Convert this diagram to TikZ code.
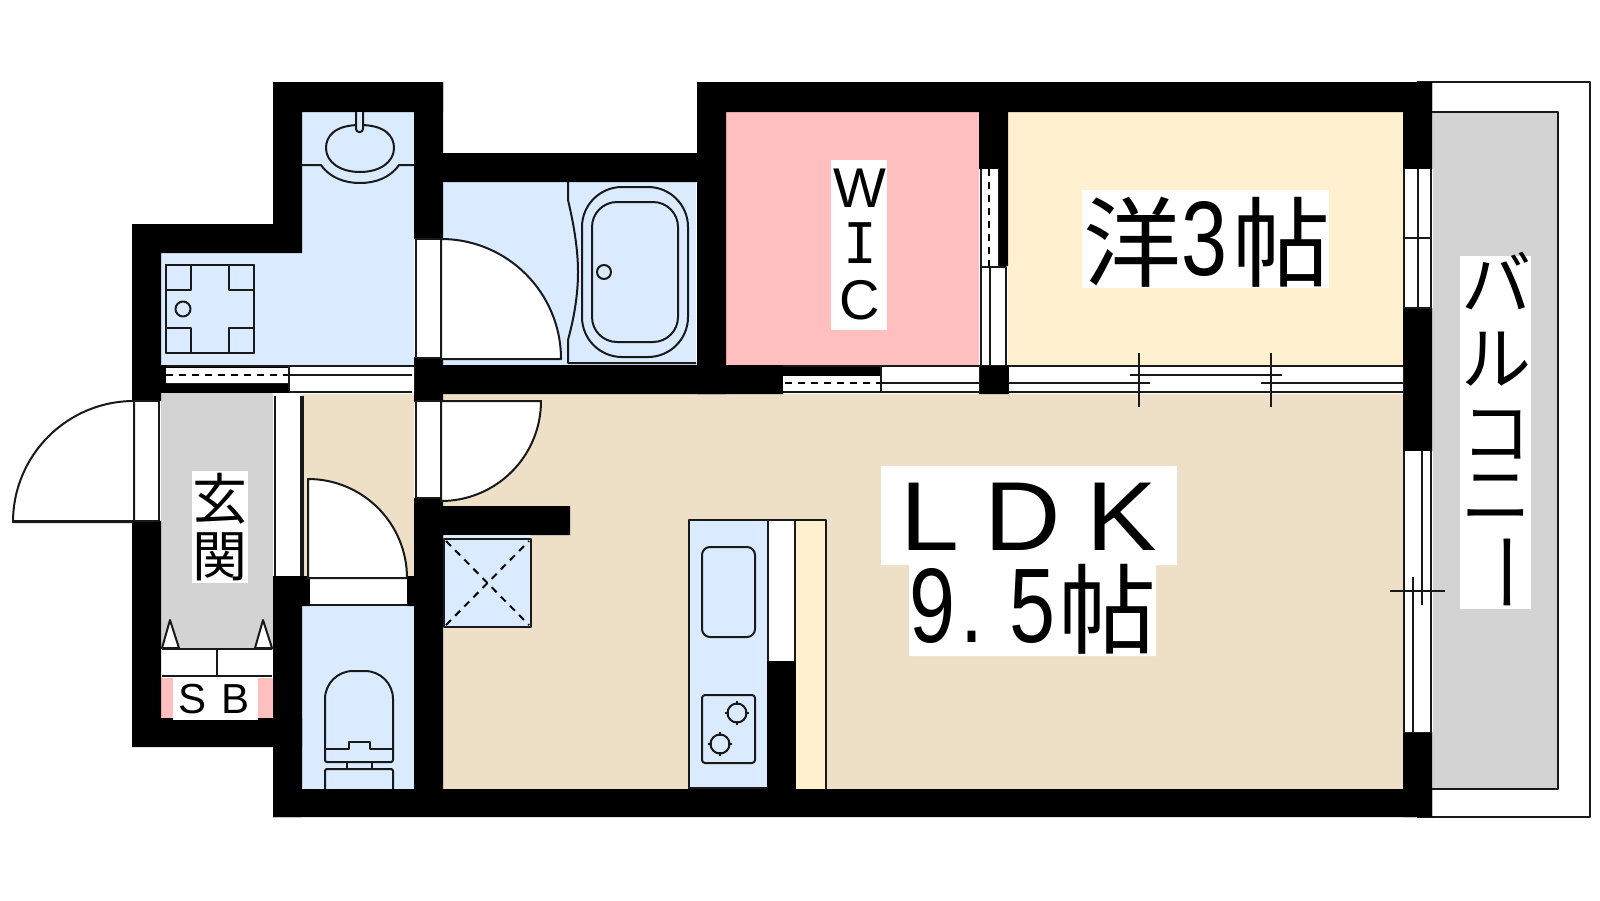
\documentclass[tikz,border=0pt]{standalone}
\usepackage{fontspec}
\usepackage{graphicx}
\setmainfont{Liberation Sans}
\newfontfamily\cjk{Noto Sans CJK JP}
\newfontfamily\monoi{DejaVu Sans Mono}
\newcommand{\tallnum}[1]{\scalebox{0.78}[1]{\fontsize{106}{106}\selectfont #1}}
\definecolor{bluefl}{HTML}{DAEBFF}
\definecolor{pinkfl}{HTML}{FFBFBF}
\definecolor{creamfl}{HTML}{FFF1CF}
\definecolor{beigefl}{HTML}{EEDFC7}
\definecolor{grayfl}{HTML}{D3D3D3}
\tikzset{
	thin line/.style={line width=2pt,draw=black!90},
	dash line/.style={line width=2pt,draw=black,dash pattern=on 7pt off 6pt},
	room label/.style={inner sep=0pt,anchor=base west},
	stack label/.style={inner sep=0pt,anchor=north,align=center}
}
\begin{document}
\begin{tikzpicture}[line join = round, line cap = butt, x=1pt, y=-1pt]
	\useasboundingbox (0,0) rectangle (1600,900);
	% rooms
	\fill[bluefl] (302,112) -- (414,112) -- (414,365) -- (161,365) -- (161,253) -- (302,253) -- cycle;
	\fill[bluefl] (443,182) rectangle (696,365);
	\fill[bluefl] (302,606) rectangle (414,789);
	\fill[pinkfl] (726,112) rectangle (979,365);
	\fill[creamfl] (1008,112) rectangle (1403,365);
	\fill[beigefl] (443,394) rectangle (1403,789);
	\fill[beigefl] (302,394) rectangle (414,576);
	\fill[grayfl] (161,393) rectangle (273,650);
	\fill[pinkfl] (161,678) rectangle (273,718);
	% balcony
	\fill[grayfl] (1432,112) rectangle (1558,789);
	\draw[thin line] (1432,112) -- (1558,112) -- (1558,789) -- (1432,789);
	\draw[thin line] (1417,82) -- (1590,82) -- (1590,817) -- (1417,817);
	% walls
	\fill[black] (273,82) rectangle (443,112) (273,82) rectangle (302,253) (132,224) rectangle (302,253);
	\fill[black] (132,224) rectangle (161,401) (132,521) rectangle (161,747) (132,718) rectangle (302,747);
	\fill[black] (273,576) rectangle (310,606) (407,576) rectangle (414,606) (273,606) rectangle (302,817);
	\fill[black] (273,789) rectangle (1432,817) (414,82) rectangle (443,239) (414,357) rectangle (443,402);
	\fill[black] (414,498) rectangle (443,789) (443,506) rectangle (570,535);
	\fill[black] (414,153) rectangle (726,182) (697,82) rectangle (1432,112) (697,82) rectangle (726,394);
	\fill[black] (979,112) rectangle (1008,169) (998,169) rectangle (1008,266) (979,365) rectangle (1009,394);
	\fill[black] (414,365) rectangle (783,394) (783,366) rectangle (880,376);
	\fill[black] (161,365) rectangle (289,393);
	\fill[black] (1403,82) rectangle (1432,169) (1403,308) rectangle (1432,451) (1403,732) rectangle (1432,817);
	% windows and sliding doors
	\fill[white] (166,368) rectangle (288,383) (289,366) rectangle (414,392);
	\draw[thin line] (166,366) -- (414,366) (289,366) -- (289,392) -- (412,392) (289,375) -- (412,375);
	\draw[dash line] (166,375) -- (288,375);
	\fill[white] (783,376) rectangle (880,392) (881,366) rectangle (979,394) (1009,366) rectangle (1403,394);
	\draw[thin line] (783,366) -- (979,366) (881,366) -- (881,392) -- (979,392) (881,383) -- (979,383);
	\draw[thin line] (783,392) -- (881,392);
	\draw[dash line] (785,383) -- (880,383);
	\draw[thin line] (1009,366) -- (1403,366) (1009,392) -- (1403,392);
	\draw[thin line] (1009,383) -- (1150,383) (1261,383) -- (1403,383) (1130,375) -- (1282,375);
	\foreach \x in {1139,1271}
	{
		\draw[thin line] (\x,353) -- (\x,407);
	}
	\fill[white] (981,169) rectangle (998,266) (981,267) rectangle (1006,365);
	\draw[dash line] (989,169) -- (989,266);
	\draw[thin line] (981,169) -- (981,365) (981,267) -- (1006,267) -- (1006,365) (990,267) -- (990,365);
	\fill[white] (1403,169) rectangle (1433,308) (1403,451) rectangle (1433,732);
	\foreach \x in {1404,1418,1431}
	{
		\draw[thin line] (\x,169) -- (\x,308);
	}
	\draw[thin line] (1404,238) -- (1431,238) (1404,308) -- (1431,308);
	\draw[thin line] (1404,451) -- (1404,732) (1431,451) -- (1431,732);
	\draw[thin line] (1422,451) -- (1422,605) (1413,577) -- (1413,732) (1390,591) -- (1445,591);
	\fill[white] (275,396) rectangle (301,576);
	\draw[thin line] (274.5,396) -- (274.5,576) (301,396) -- (301,576) (303,396) -- (303,576);
	% doors
	\fill[white] (416,239) rectangle (441,358) (416,401) rectangle (441,498) (134,401) rectangle (159,521);
	\fill[white] (310,578) rectangle (407,605);
	\draw[thin line] (416,239) rectangle (441,358) (416,401) rectangle (441,498) (134,401) -- (159,401) -- (159,521);
	\draw[thin line] (310,578) -- (407,578) (310,605) -- (407,605);
	\draw[thin line,fill=white] (441,239) arc (90:0:120pt) -- (441,359) -- cycle;
	\draw[thin line,fill=white] (441,401) -- (541,401) arc (0:-90:100pt) -- cycle;
	\draw[thin line,fill=white] (134,401) arc (90:180:121pt) -- (134,522) -- cycle;
	\draw[thin line] (13,521) -- (159,521);
	\draw[thin line,fill=white] (308,479) arc (90:0:99pt) -- (308,578) -- cycle;
	% washroom
	\draw[thin line] (360,125) .. controls (385,125) and (394,136) .. (394,148) .. controls (394,162) and (380,172) .. (360,172) .. controls (340,172) and (326,162) .. (326,148) .. controls (326,136) and (335,125) .. (360,125) -- cycle;
	\draw[thin line,fill=bluefl,rounded corners=3pt] (356,112) -- (356,132) -- (363,132) -- (363,112);
	\draw[thin line] (302,165) -- (321,165) .. controls (330,178) and (345,183) .. (360,183) .. controls (375,183) and (390,178) .. (399,165) -- (414,165);
	\draw[thin line] (166,265) rectangle (254,353);
	\foreach \x/\y in {166/265,229/265,166/328,229/328}
	{
		\draw[thin line] (\x,\y) rectangle (\x+25,\y+25);
	}
	\draw[thin line] (183,309) circle (7.5pt);
	% bath
	\draw[thin line] (568,182) -- (568,200) .. controls (574,225) and (578,250) .. (578,272) .. controls (578,295) and (574,318) .. (568,340) -- (568,363) -- (696,363);
	\draw[thin line,rounded corners=40pt] (582,187) rectangle (688,357);
	\draw[thin line,rounded corners=25pt] (592,202) rectangle (678,342);
	\draw[thin line] (604,272) circle (7pt);
	% toilet
	\draw[thin line,rounded corners=28pt] (325,749) -- (325,671) -- (393,671) -- (393,749);
	\draw[thin line,rounded corners=2pt] (325,749) -- (325,762) -- (393,762) -- (393,749);
	\draw[thin line] (325,749) -- (349,749) -- (349,742) -- (370,742) -- (370,749) -- (393,749);
	\draw[thin line] (347,762) -- (347,769) (372,762) -- (372,769);
	\draw[thin line,rounded corners=2pt] (325,789) -- (325,769) -- (393,769) -- (393,789);
	% shoe box
	\fill[white] (162,649) rectangle (272,676);
	\draw[thin line] (162,649) -- (272,649) (162,676) -- (272,676) (217,649) -- (217,676);
	\foreach \x in {162,255}
	{
		\draw[thin line,fill=white] (\x,648) -- (\x+8,620) -- (\x+17,648) -- cycle;
	}
	% closet in living room
	\fill[bluefl] (444,535) rectangle (531,539);
	\draw[thin line,fill=bluefl] (444,539) rectangle (531,627);
	\draw[dash line] (446,625) -- (529,541) (446,541) -- (529,625);
	% kitchen
	\fill[bluefl] (689,520) rectangle (767,789);
	\fill[white] (767,520) rectangle (796,661);
	\fill[creamfl] (796,520) rectangle (826,789);
	\fill[black] (767,661) rectangle (796,789);
	\draw[thin line] (689,789) -- (689,520) -- (826,520) -- (826,789) (768,520) -- (768,661) (795,520) -- (795,661);
	\draw[thin line] (689,788) -- (767,788);
	\draw[thin line,rounded corners=8pt] (702,547) rectangle (755,637);
	\draw[thin line,rounded corners=3pt] (702,695) rectangle (755,763);
	\foreach \x/\y in {737/713,720/744}
	{
		\draw[thin line] (\x,\y) circle (9.5pt);
		\draw[thin line] (\x-12,\y) -- (\x-8,\y) (\x+8,\y) -- (\x+12,\y) (\x,\y-12) -- (\x,\y-8) (\x,\y+8) -- (\x,\y+12);
	}
	% label backgrounds
	\fill[white] (831,160) rectangle (887,330);
	\fill[white] (1082,190) rectangle (1329,288);
	\fill[white] (881,466) rectangle (1177,565) (909,565) rectangle (1156,656);
	\fill[white] (192,471) rectangle (248,583);
	\fill[white] (173,678) rectangle (258,720);
	\fill[white] (1460,256) rectangle (1531,609);
	% labels
	\node[stack label,font=\fontsize{56}{56}\selectfont] (wic) at (860,169) {W\\[0pt]{\monoi I}\\C};
	\node[room label,font=\fontsize{98}{98}\selectfont] (bedroom) at (1083,275) {{\cjk\raisebox{-4pt}{洋}}\tallnum{3}\kern5pt{\cjk\raisebox{-4pt}{帖}}};
	\node[room label,font=\fontsize{98}{98}\selectfont\addfontfeature{LetterSpace=24}] (ldk) at (900,550) {\scalebox{1.08}[1]{LDK}};
	\node[room label,font=\fontsize{98}{98}\selectfont] (ldkarea) at (909,642) {\tallnum{9}\kern5pt\tallnum{.}\kern26pt\tallnum{5}\kern3pt{\cjk\raisebox{-4pt}{帖}}};
	\node[stack label,font=\cjk\fontsize{55}{57}\selectfont] (entry) at (220,473) {玄\\関};
	\node[room label,font=\fontsize{42}{42}\selectfont\addfontfeature{LetterSpace=37}] (sb) at (178,713) {SB};
	\node[stack label,font=\cjk\fontsize{70}{71}\selectfont] (balcony) at (1496,252) {バ\\[4pt]ル\\[3pt]コ\\[-9pt]ニ\\[-4pt]\rotatebox[origin=c]{-90}{\scalebox{1.2}[1]{ー}}};
\end{tikzpicture}
\end{document}
